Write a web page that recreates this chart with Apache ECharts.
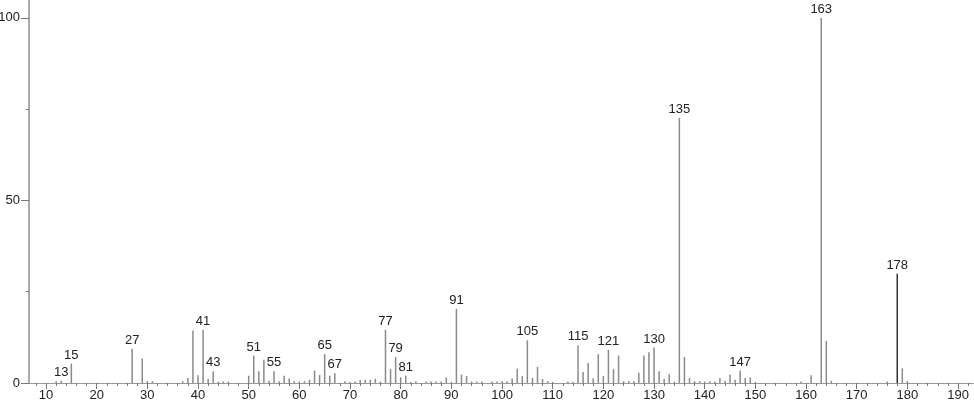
<!DOCTYPE html>
<html>
<head>
<meta charset="utf-8">
<script src="https://cdn.jsdelivr.net/npm/echarts@6/dist/echarts.min.js"></script>
<style>
html,body{margin:0;padding:0;background:#fff;}
#chart{width:974px;height:406px;}
</style>
</head>
<body>
<div id="chart"></div>
<script>
// m/z values and relative intensities
const mz = [12,13,15,27,29,30,31,37,38,39,40,41,42,43,44,45,46,
  50,51,52,53,54,55,56,57,58,59,60,61,62,63,64,65,66,67,69,70,71,72,73,74,75,76,77,78,79,80,81,82,83,
  85,86,87,88,89,90,91,92,93,94,95,96,98,99,100,101,102,103,104,105,106,107,108,109,110,113,114,
  115,116,117,118,119,120,121,122,123,124,125,126,127,128,129,130,131,132,133,134,135,136,137,138,139,
  140,141,142,143,144,145,146,147,148,149,150,159,161,163,164,165,176,178,179,180];
const intensity = [0.5,0.6,5.3,9.4,6.7,0.5,0.5,0.5,1.4,14.4,2.1,14.6,1.1,3.2,0.4,0.4,0.4,
  2.0,7.5,3.2,6.4,0.6,3.2,0.5,2.0,1.2,0.5,0.4,0.5,0.9,3.4,2.2,7.9,2.0,2.7,0.5,0.3,0.4,0.8,0.9,0.9,1.1,0.4,14.6,3.8,7.1,1.6,2.0,0.3,0.5,
  0.4,0.4,0.4,0.4,1.5,0.3,20.3,2.3,1.9,0.4,0.4,0.4,0.4,0.4,0.5,0.5,1.2,3.9,1.9,11.7,1.4,4.4,1.1,0.5,0.3,0.4,0.3,
  10.3,3.0,5.5,1.3,7.9,1.9,9.1,3.8,7.5,0.5,0.5,0.5,2.8,7.5,8.4,9.7,3.2,1.1,2.4,0.4,72.6,7.1,1.4,0.5,0.5,
  0.4,0.5,0.4,1.4,0.6,2.3,0.9,3.4,1.4,1.5,0.3,0.4,2.1,100,11.5,0.6,0.4,29.9,4.0,0.5];
const labeledPeaks = [13,15,27,41,43,51,55,65,67,77,79,81,91,105,115,121,130,135,147,163,178];
const darkPeak = 178;
const xTickLabels = [10,20,30,40,50,60,70,80,90,100,110,120,130,140,150,160,170,180,190];
const xMinorTicks = [];
for (let v = 8; v <= 192; v += 2) xMinorTicks.push(v);
const yTickLabels = [0,50,100];
const yMinorTicks = [25,75];

const FONT = 'Liberation Sans';
const TXT = '#222';
const barColor = '#8a8a8a';

const seriesData = mz.map((m, i) => {
  const item = { value: [m, intensity[i]] };
  if (m === darkPeak) item.itemStyle = { color: '#333' };
  if (labeledPeaks.includes(m)) item.label = { show: true };
  return item;
});

const XMIN = 6.645, XMAX = 193.15, YMAX = 104.9;

const chart = echarts.init(document.getElementById('chart'));
chart.setOption({
  animation: false,
  grid: { left: 29, right: 0, top: 0, bottom: 23, containLabel: false, outerBoundsMode: 'none' },
  xAxis: [
    {
      type: 'value', min: XMIN, max: XMAX,
      axisLine: { show: true, lineStyle: { color: '#999', width: 1 } },
      axisTick: { show: true, customValues: xTickLabels, length: 6, lineStyle: { color: '#777' } },
      axisLabel: { show: true, customValues: xTickLabels, margin: 6, fontFamily: FONT, fontSize: 13, color: TXT },
      splitLine: { show: false }
    },
    {
      type: 'value', min: XMIN, max: XMAX, position: 'bottom',
      axisLine: { show: false },
      axisTick: { show: true, customValues: xMinorTicks, length: 3, lineStyle: { color: '#777' } },
      axisLabel: { show: false },
      splitLine: { show: false }
    }
  ],
  yAxis: [
    {
      type: 'value', min: 0, max: YMAX,
      axisLine: { show: true, lineStyle: { color: '#aaa', width: 2 } },
      axisTick: { show: true, customValues: yTickLabels, length: 8, lineStyle: { color: '#777' } },
      axisLabel: { show: true, customValues: yTickLabels, margin: 9, fontFamily: FONT, fontSize: 13, color: TXT },
      splitLine: { show: false }
    },
    {
      type: 'value', min: 0, max: YMAX, position: 'left',
      axisLine: { show: false },
      axisTick: { show: true, customValues: yMinorTicks, length: 3, lineStyle: { color: '#777' } },
      axisLabel: { show: false },
      splitLine: { show: false }
    }
  ],
  series: [{
    type: 'bar',
    xAxisIndex: 0, yAxisIndex: 0,
    barWidth: 1.5,
    itemStyle: { color: barColor },
    label: {
      show: false, position: 'top', distance: 2,
      fontFamily: FONT, fontSize: 13, color: TXT,
      formatter: p => String(p.value[0])
    },
    data: seriesData
  }]
});
</script>
</body>
</html>
